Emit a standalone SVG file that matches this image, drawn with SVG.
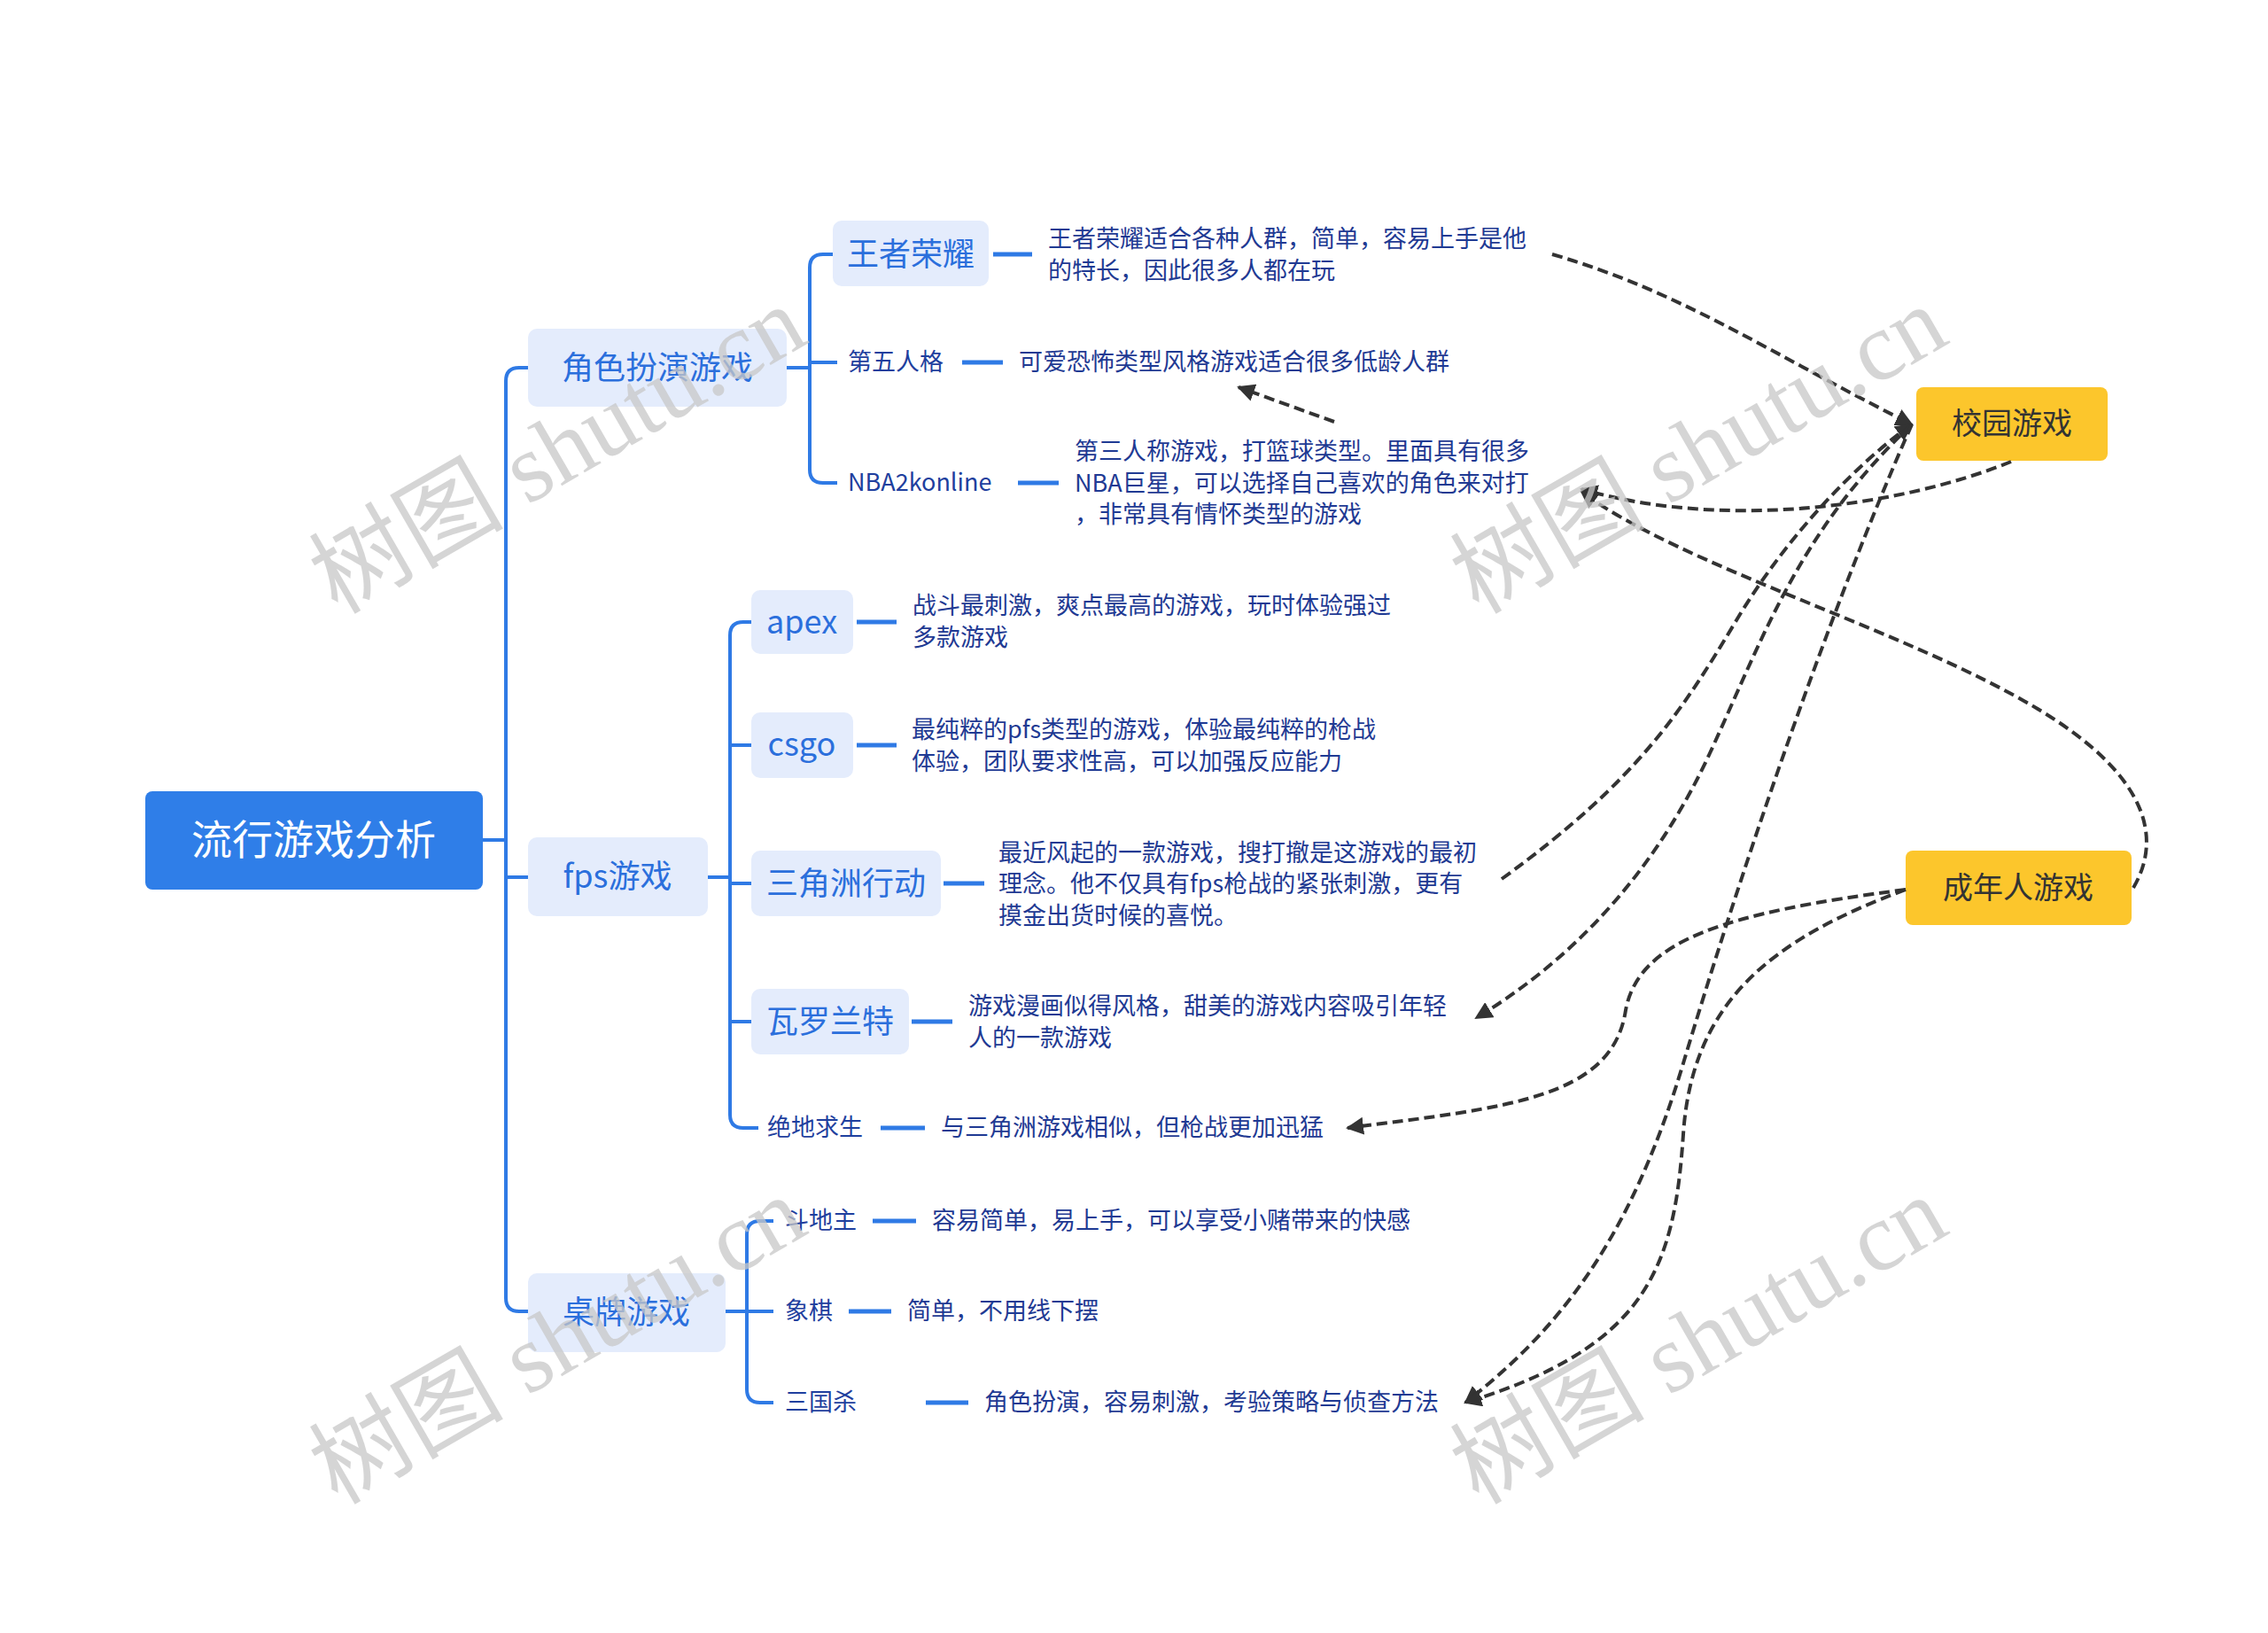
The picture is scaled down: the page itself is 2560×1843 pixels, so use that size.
<svg xmlns="http://www.w3.org/2000/svg" width="2560" height="1843" viewBox="0 0 2560 1843">
<defs>
<style>
.t{font-family:"Noto Sans CJK SC","Liberation Sans",sans-serif;}
.root{fill:#2f7ee8}
.l1{fill:#e4ecfc}
.l1t{fill:#2b6fdc;font-size:36px}
.l2t{fill:#2b6fdc;font-size:36px}
.pl{fill:#1f3f9e;font-size:27px}
.d{fill:#1f3a93;font-size:27px}
.br{fill:none;stroke:#2f7ae5;stroke-width:4}
.dash{stroke:#2f7ae5;stroke-width:5}
.rel{fill:none;stroke:#333;stroke-width:4;stroke-dasharray:12 6}
.y{fill:#fcc62c}
.yt{fill:#333;font-size:34px}
.wm{font-family:"Liberation Serif","Noto Sans CJK SC",serif;font-size:110px;fill:#c8c8c8;opacity:0.75}
</style>
<marker id="ah" viewBox="0 0 10 10" refX="9" refY="5" markerWidth="5" markerHeight="5" orient="auto"><path d="M0,0 L10,5 L0,10 Z" fill="#333"/></marker>
</defs>
<rect width="2560" height="1843" fill="#fff"/>
<g id="branches">
<path class="br" d="M545,948 H571 M596,415 H586 Q571,415 571,430 V1465 Q571,1480 586,1480 H596 M571,990 H596"/>
<path class="br" d="M888,415 H914 M940,287 H929 Q914,287 914,302 V530 Q914,545 929,545 H945 M914,409 H945"/>
<path class="br" d="M799,990 H824 M848,702 H839 Q824,702 824,717 V1258 Q824,1273 839,1273 H856 M824,841 H848 M824,997 H848 M824,1153 H848"/>
<path class="br" d="M819,1480 H843 M873,1378 H858 Q843,1378 843,1393 V1568 Q843,1583 858,1583 H873 M843,1480 H873"/>
<path class="dash" d="M1121,287 H1165 M1086,409 H1132 M1149,545 H1195 M967,702 H1012 M967,841 H1012 M1065,997 H1111 M1029,1153 H1075 M994,1273 H1044 M985,1378 H1034 M958,1480 H1006 M1045,1583 H1093"/>
</g>
<g id="root"><rect class="root" x="164" y="893" width="381" height="111" rx="8"/><text class="t" x="354" y="964" text-anchor="middle" font-size="46" fill="#fff">流行游戏分析</text></g>
<g id="n-jsby"><rect class="l1" x="596" y="371" width="292" height="88" rx="10"/><text class="t l1t" x="742" y="428" text-anchor="middle">角色扮演游戏</text></g>
<g id="n-fps"><rect class="l1" x="596" y="945" width="203" height="89" rx="10"/><text class="t l1t" x="697" y="1002" text-anchor="middle">fps游戏</text></g>
<g id="n-zp"><rect class="l1" x="596" y="1437" width="223" height="89" rx="10"/><text class="t l1t" x="707" y="1494" text-anchor="middle">桌牌游戏</text></g>
<g id="n-wzry"><rect class="l1" x="940" y="249" width="176" height="74" rx="10"/><text class="t l2t" x="1028" y="300" text-anchor="middle">王者荣耀</text>
<text class="t d" x="1183" y="279">王者荣耀适合各种人群，简单，容易上手是他</text><text class="t d" x="1183" y="315">的特长，因此很多人都在玩</text></g>
<g id="n-dwrg"><text class="t pl" x="957" y="418">第五人格</text><text class="t d" x="1150" y="418">可爱恐怖类型风格游戏适合很多低龄人群</text></g>
<g id="n-nba"><text class="t pl" x="957" y="554">NBA2konline</text>
<text class="t d" x="1213" y="519">第三人称游戏，打篮球类型。里面具有很多</text><text class="t d" x="1213" y="555">NBA巨星，可以选择自己喜欢的角色来对打</text><text class="t d" x="1213" y="590">，非常具有情怀类型的游戏</text></g>
<g id="n-apex"><rect class="l1" x="848" y="666" width="115" height="72" rx="10"/><text class="t l2t" x="905" y="715" text-anchor="middle">apex</text>
<text class="t d" x="1030" y="693">战斗最刺激，爽点最高的游戏，玩时体验强过</text><text class="t d" x="1030" y="729">多款游戏</text></g>
<g id="n-csgo"><rect class="l1" x="848" y="804" width="115" height="74" rx="10"/><text class="t l2t" x="905" y="853" text-anchor="middle">csgo</text>
<text class="t d" x="1029" y="833">最纯粹的pfs类型的游戏，体验最纯粹的枪战</text><text class="t d" x="1029" y="869">体验，团队要求性高，可以加强反应能力</text></g>
<g id="n-sjz"><rect class="l1" x="848" y="960" width="214" height="74" rx="10"/><text class="t l2t" x="955" y="1010" text-anchor="middle">三角洲行动</text>
<text class="t d" x="1127" y="972">最近风起的一款游戏，搜打撤是这游戏的最初</text><text class="t d" x="1127" y="1007">理念。他不仅具有fps枪战的紧张刺激，更有</text><text class="t d" x="1127" y="1043">摸金出货时候的喜悦。</text></g>
<g id="n-wllt"><rect class="l1" x="848" y="1116" width="178" height="74" rx="10"/><text class="t l2t" x="937" y="1166" text-anchor="middle">瓦罗兰特</text>
<text class="t d" x="1093" y="1145">游戏漫画似得风格，甜美的游戏内容吸引年轻</text><text class="t d" x="1093" y="1181">人的一款游戏</text></g>
<g id="n-jdqs"><text class="t pl" x="866" y="1282">绝地求生</text><text class="t d" x="1062" y="1282">与三角洲游戏相似，但枪战更加迅猛</text></g>
<g id="n-ddz"><text class="t pl" x="886" y="1387">斗地主</text><text class="t d" x="1052" y="1387">容易简单，易上手，可以享受小赌带来的快感</text></g>
<g id="n-xq"><text class="t pl" x="886" y="1489">象棋</text><text class="t d" x="1024" y="1489">简单，不用线下摆</text></g>
<g id="n-sgs"><text class="t pl" x="886" y="1592">三国杀</text><text class="t d" x="1111" y="1592">角色扮演，容易刺激，考验策略与侦查方法</text></g>
<g id="n-xy"><rect class="y" x="2163" y="437" width="216" height="83" rx="8"/><text class="t yt" x="2271" y="490" text-anchor="middle">校园游戏</text></g>
<g id="n-cn"><rect class="y" x="2151" y="960" width="255" height="84" rx="8"/><text class="t yt" x="2278" y="1014" text-anchor="middle">成年人游戏</text></g>
<g id="relations">
<path class="rel" marker-end="url(#ah)" d="M1752,287 C1900,330 2000,400 2158,479"/>
<path class="rel" marker-end="url(#ah)" d="M2270,521 C2150,570 1950,600 1785,552"/>
<path class="rel" marker-end="url(#ah)" d="M1506,476 L1398,437"/>
<path class="rel" marker-end="url(#ah)" d="M2408,1002 C2450,930 2400,860 2300,800 C2150,710 1900,640 1785,555"/>
<path class="rel" marker-end="url(#ah)" d="M1695,992 C1850,880 1900,800 1960,700 C2020,600 2100,520 2158,479"/>
<path class="rel" d="M2158,479 C2030,600 1990,720 1930,850 C1870,980 1780,1080 1666,1149" marker-end="url(#ah)"/>
<path class="rel" marker-end="url(#ah)" d="M2158,479 C2060,700 1960,1000 1900,1200 C1840,1400 1760,1500 1654,1583"/>
<path class="rel" marker-end="url(#ah)" d="M2151,1004 C1950,1030 1850,1060 1835,1140 C1820,1240 1700,1250 1521,1273"/>
<path class="rel" marker-end="url(#ah)" d="M2151,1004 C2000,1060 1910,1130 1900,1280 C1890,1430 1860,1520 1654,1583"/>
</g>
<g id="watermarks">
<text class="wm" transform="translate(648,540) rotate(-30)" text-anchor="middle">树图 shutu.cn</text>
<text class="wm" transform="translate(1936,540) rotate(-30)" text-anchor="middle">树图 shutu.cn</text>
<text class="wm" transform="translate(648,1545) rotate(-30)" text-anchor="middle">树图 shutu.cn</text>
<text class="wm" transform="translate(1936,1545) rotate(-30)" text-anchor="middle">树图 shutu.cn</text>
</g>
</svg>
